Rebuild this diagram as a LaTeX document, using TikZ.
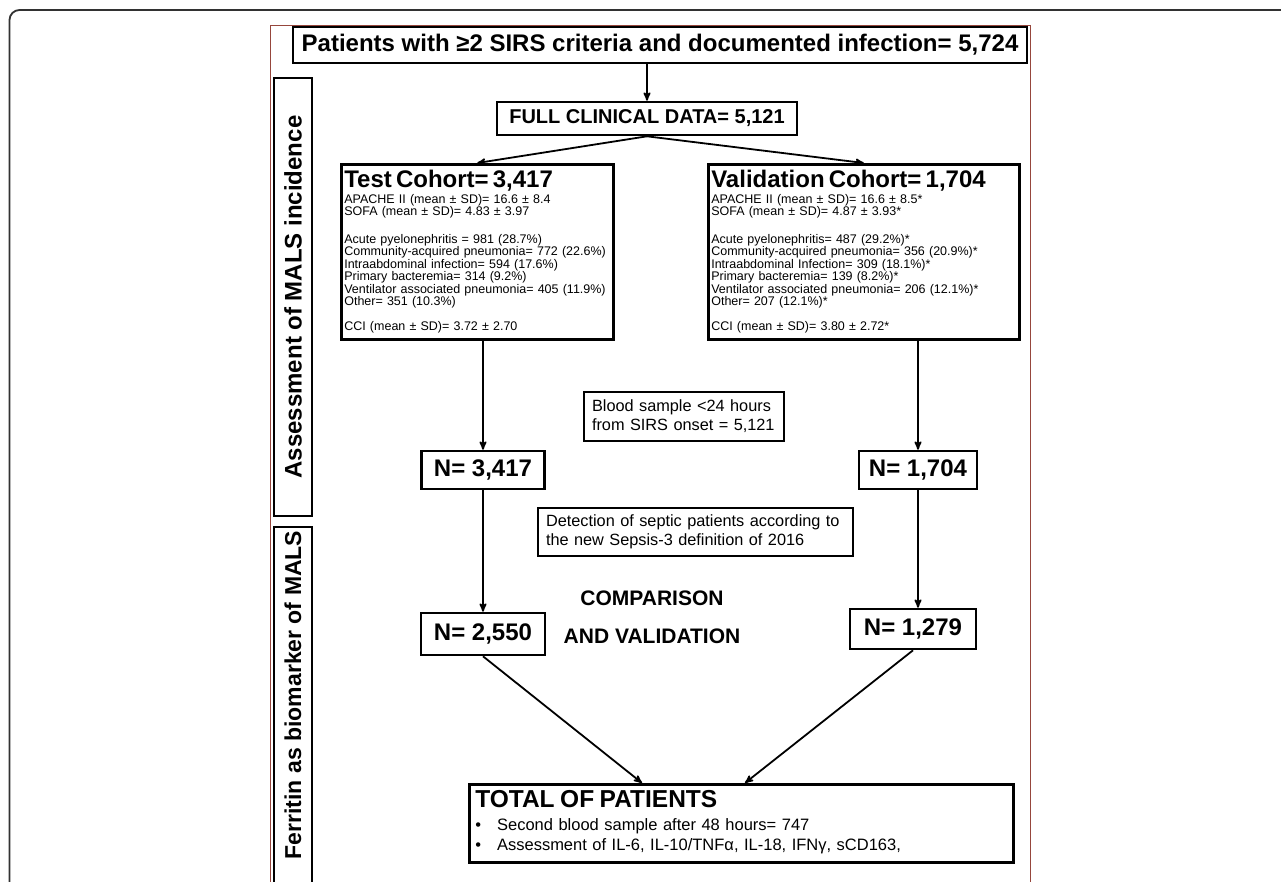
\documentclass[tikz,border=0pt]{standalone}
\usepackage{fontspec}
\setmainfont{Liberation Sans}
\usetikzlibrary{positioning}
\usetikzlibrary{arrows}
\definecolor{framegray}{RGB}{50,50,50}
\definecolor{framered}{RGB}{150,70,60}
\tikzset{
    box/.style={ % plain black box of the flow chart
        draw,
        line width=2.6pt,
        fill=white,
        inner sep=2pt
    },
    sidebox/.style={ % rotated phase labels on the left
        draw,
        line width=2.2pt,
        rotate=90,
        inner sep=0pt,
        font=\fontsize{23}{27}\selectfont\bfseries
    },
    flow/.style={ % arrows between the boxes
        draw,
        ->,>=stealth',
        line width=1.8pt
    },
    titlefont/.style={font=\fontsize{24}{28}\selectfont\bfseries},
    countfont/.style={font=\fontsize{24}{28}\selectfont\bfseries},
    smallfont/.style={font=\fontsize{12.5}{11.7}\selectfont},
    notefont/.style={font=\fontsize{16.3}{19}\selectfont}
}
\newcommand{\cohorttitle}{\fontsize{24}{24}\selectfont\bfseries}

\begin{document}
\begin{tikzpicture}[x=1pt,y=-1pt]
\clip (0,0) rectangle (1281,881);
\fill[white] (0,0) rectangle (1281,881);
% outer frame and panel border
\draw[framegray,line width=1.8pt,rounded corners=10pt] (9.5,900) -- (9.5,10) -- (1300,10);
\draw[framered,line width=1pt] (270,900) -- (270,25.5) -- (1030,25.5) -- (1030,900);

% side labels
\node[sidebox,font=\fontsize{24}{28}\selectfont\bfseries,minimum width=438pt,minimum height=38pt] (assess) at (293,297) {Assessment of MALS incidence};
\node[sidebox,minimum width=374pt,minimum height=38pt] (ferritin) at (293,714) {\hspace*{38pt}Ferritin as biomarker of MALS};

% main flow
\node[box,titlefont,minimum width=734pt,minimum height=36pt] (patients) at (660,45) {Patients with ≥2 SIRS criteria and documented infection= 5,724};
\node[box,font=\fontsize{20}{24}\selectfont\bfseries,minimum width=300pt,minimum height=33pt] (full) at (647,118.5) {FULL CLINICAL DATA= 5,121};

\node[box,smallfont,anchor=north west,text width=266pt,inner xsep=3pt,inner ysep=6pt] (test) at (340,163) {
\begin{tabular}{@{}l@{}}
{\cohorttitle Test Cohort= 3,417}\\[3pt]
APACHE II (mean ± SD)= 16.6 ± 8.4\\
SOFA (mean ± SD)= 4.83 ± 3.97\\[3pt]
\\
Acute pyelonephritis = 981 (28.7\%)\\
Community-acquired pneumonia= 772 (22.6\%)\\
Intraabdominal infection= 594 (17.6\%)\\
Primary bacteremia= 314 (9.2\%)\\
Ventilator associated pneumonia= 405 (11.9\%)\\
Other= 351 (10.3\%)\\
\\
CCI (mean ± SD)= 3.72 ± 2.70
\end{tabular}};
\node[box,smallfont,anchor=north west,text width=305pt,inner xsep=3pt,inner ysep=6pt] (valid) at (707,163) {
\begin{tabular}{@{}l@{}}
{\cohorttitle Validation Cohort= 1,704}\\[3pt]
APACHE II (mean ± SD)= 16.6 ± 8.5*\\
SOFA (mean ± SD)= 4.87 ± 3.93*\\[3pt]
\\
Acute pyelonephritis= 487 (29.2\%)*\\
Community-acquired pneumonia= 356 (20.9\%)*\\
Intraabdominal Infection= 309 (18.1\%)*\\
Primary bacteremia= 139 (8.2\%)*\\
Ventilator associated pneumonia= 206 (12.1\%)*\\
Other= 207 (12.1\%)*\\
\\
CCI (mean ± SD)= 3.80 ± 2.72*
\end{tabular}};

\node[box,notefont,text width=184pt,align=left,inner xsep=8pt,minimum height=49pt] (blood) at (684,416.5) {Blood sample <24 hours\\from SIRS onset = 5,121};
\node[box,countfont,minimum width=123pt,minimum height=38pt] (n1) at (483,470) {N= 3,417};
\node[box,countfont,minimum width=118pt,minimum height=38pt] (n2) at (918,470) {N= 1,704};
\node[box,notefont,text width=299pt,align=left,inner xsep=8pt,minimum height=48pt] (detect) at (695.5,532) {Detection of septic patients according to\\the new Sepsis-3 definition of 2016};

\node[box,countfont,minimum width=124pt,minimum height=42pt] (n3) at (483,634) {N= 2,550};
\node[box,countfont,minimum width=126pt,minimum height=40pt] (n4) at (913,629) {N= 1,279};
\node[font=\fontsize{21}{38}\selectfont\bfseries,align=center] (compare) at (652,617) {COMPARISON\\AND VALIDATION};

\node[box,font=\fontsize{16.5}{20}\selectfont,anchor=north west,text width=532pt,inner xsep=6pt,inner ysep=6pt] (total) at (468,783) {
\begin{tabular}{@{}l@{\hspace{16pt}}l@{}}
\multicolumn{2}{@{}l@{}}{\fontsize{24.5}{25}\selectfont\bfseries TOTAL OF PATIENTS}\\[3pt]
• & Second blood sample after 48 hours= 747\\
• & Assessment of IL-6, IL-10/TNFα, IL-18, IFNγ, sCD163,
\end{tabular}};

% connectors
\draw[flow] (patients.south -| full.north) -- (full.north);
\draw[flow] (full.south) -- (test.north);
\draw[flow] (full.south) -- (valid.north);
\draw[flow] (test.south -| n1.north) -- (n1.north);
\draw[flow] (valid.south -| n2.north) -- (n2.north);
\draw[flow] (n1.south) -- (n3.north);
\draw[flow] (n2.south) -- (n2.south |- n4.north);
\draw[flow] (n3.south) -- ([xshift=174pt]total.north west);
\draw[flow] (n4.south) -- ([xshift=277pt]total.north west);
\end{tikzpicture}
\end{document}
